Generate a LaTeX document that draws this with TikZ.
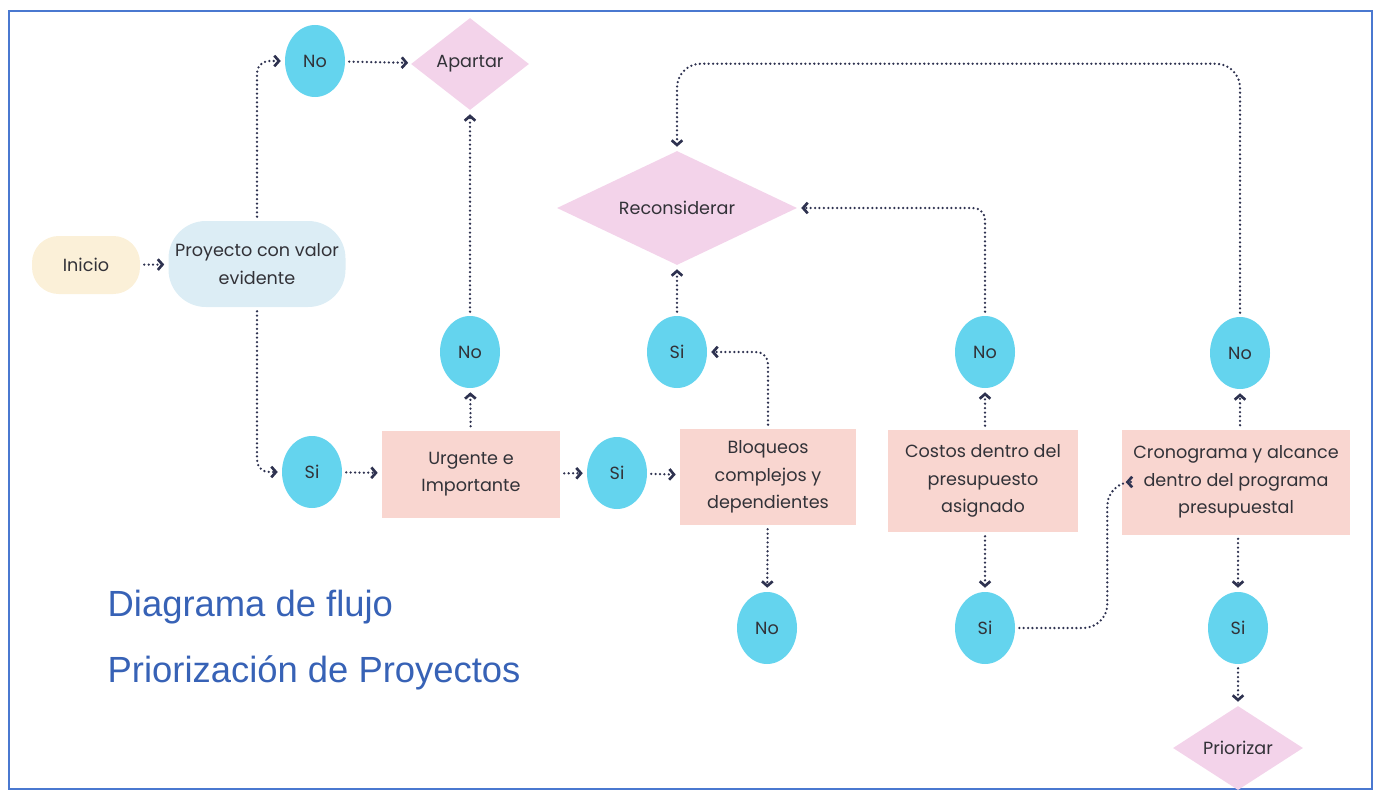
\documentclass[tikz,border=0pt]{standalone}
\usepackage{fontspec}
\setmainfont{Poppins}
\newfontfamily\titlefont{Liberation Sans}
\usetikzlibrary{shapes.geometric,arrows.meta}
\definecolor{cyanell}{RGB}{100,212,238}
\definecolor{pillY}{RGB}{251,240,216}
\definecolor{pillB}{RGB}{220,237,245}
\definecolor{boxP}{RGB}{249,214,208}
\definecolor{diaP}{RGB}{243,211,234}
\definecolor{txt}{RGB}{50,50,56}
\definecolor{lineC}{RGB}{46,50,80}
\definecolor{titleC}{RGB}{55,98,182}
\definecolor{frameC}{RGB}{74,120,208}
\tikzset{
  every node/.style={text=txt, font=\fontsize{13.2}{20.5}\selectfont, align=center},
  dec/.style={ellipse, fill=cyanell, minimum width=45pt, minimum height=54pt, inner sep=0pt},
  pill/.style={rounded corners=20pt, minimum width=81pt, minimum height=43.5pt, inner sep=0pt},
  task/.style={fill=boxP, inner sep=0pt},
  dia/.style={diamond, fill=diaP, inner sep=0pt},
  conn/.style={draw=lineC, line width=1.9pt, dash pattern=on 0pt off 3.3pt, line cap=round,
    rounded corners=9pt, shorten >=3pt, shorten <=3pt,
    -{Straight Barb[length=3.5pt,width=8pt,line width=2pt,line cap=butt]}},
  ttl/.style={text=titleC, font=\titlefont\fontsize{27.3}{30}\selectfont, anchor=west}
}
\begin{document}
\begin{tikzpicture}[x=0.75pt,y=-0.75pt]
\useasboundingbox (0,0) rectangle (1377,792);
\draw[frameC, line width=1.6pt] (9,11) rectangle (1372,789);

\node[pill, fill=pillY] (inicio) at (86,265) {Inicio};
\node[pill, fill=pillB, rounded corners=28pt, minimum width=132.75pt, minimum height=64.5pt] (proy) at (257,264) {Proyecto con valor\\evidente};
\node[dec] (no1) at (315,61) {No};
\node[dia, minimum width=88.5pt, minimum height=69pt] (apartar) at (470,64) {\makebox[0pt]{Apartar}};
\node[dec] (si1) at (312,472) {Si};
\node[task, minimum width=133.5pt, minimum height=65.25pt] (urg) at (471,474) {Urgente e\\Importante};
\node[dec] (no2) at (470,352) {No};
\node[dec] (si2) at (617,473) {Si};
\node[task, minimum width=132pt, minimum height=72pt] (bloq) at (768,477) {Bloqueos\\complejos y\\dependientes};
\node[dec] (no3) at (767,628) {No};
\node[dec] (si3) at (677,352) {Si};
\node[dia, minimum width=180pt, minimum height=85.5pt] (recon) at (677,208) {\makebox[0pt]{Reconsiderar}};
\node[dec] (no4) at (985,352) {No};
\node[task, minimum width=142.5pt, minimum height=76.5pt] (costos) at (983,481) {Costos dentro del\\presupuesto\\asignado};
\node[dec] (si4) at (985,628) {Si};
\node[dec] (no5) at (1240,353) {No};
\node[task, minimum width=171pt, minimum height=78.75pt] (crono) at (1236,482) {Cronograma y alcance\\dentro del programa\\presupuestal};
\node[dec] (si5) at (1238,628) {Si};
\node[dia, minimum width=97.5pt, minimum height=63pt] (prior) at (1238,748) {\makebox[0pt]{Priorizar}};

\node[ttl] (t1) at (103,607) {Diagrama de flujo};
\node[ttl] (t2) at (103,673) {Priorización de Proyectos};

\path[conn] (inicio) -- (proy);
\path[conn] (proy.north) |- (no1.west);
\path[conn] (no1) -- (apartar);
\path[conn] (proy.south) |- (si1.west);
\path[conn] (si1) -- (urg);
\path[conn] (urg) -- (no2);
\path[conn] (no2) -- (apartar);
\path[conn] (urg) -- (si2);
\path[conn] (si2) -- (bloq);
\path[conn] (bloq.north) |- (si3.east);
\path[conn] (si3) -- (recon);
\path[conn] (bloq) -- (no3);
\path[conn] (costos.north -| no4) -- (no4);
\path[conn] (no4.north) |- (recon.east);
\path[conn] (costos.south -| si4) -- (si4);
\path[conn, rounded corners=18pt] (si4.east) -- ++(92,0) |- (crono.west);
\path[conn] (crono.north -| no5) -- (no5);
\path[conn, rounded corners=18pt] (no5.north) -- ++(0,-253) -| (recon.north);
\path[conn] (crono.south -| si5) -- (si5);
\path[conn] (si5) -- (prior);
\end{tikzpicture}
\end{document}
